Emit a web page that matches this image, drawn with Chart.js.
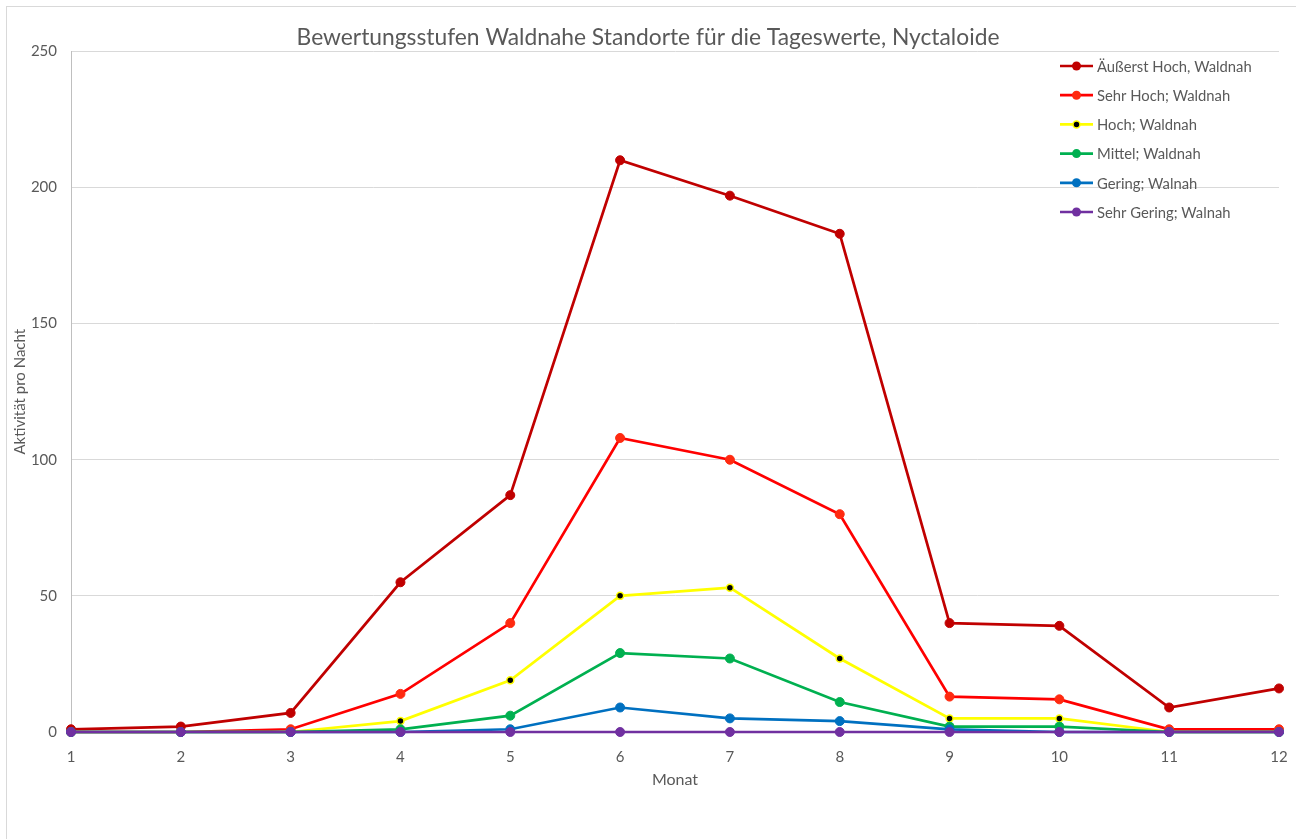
<!DOCTYPE html>
<html>
<head>
<meta charset="utf-8">
<script src="https://cdn.jsdelivr.net/npm/chart.js@4"></script>
<style>
  html, body { margin: 0; padding: 0; background: #fff; overflow: hidden; }
  #wrap { position: relative; width: 1296px; height: 839px; }
  #frame { position: absolute; left: 6px; top: 6px; width: 1400px; height: 900px; border: 1px solid #d9d9d9; box-sizing: border-box; pointer-events: none; }
</style>
</head>
<body>
<div id="wrap">
  <canvas id="chart" width="1296" height="839"></canvas>
  <div id="frame"></div>
</div>
<script>
const months = ['1','2','3','4','5','6','7','8','9','10','11','12'];
const seriesNames = ['Äußerst Hoch, Waldnah', 'Sehr Hoch; Waldnah', 'Hoch; Waldnah', 'Mittel; Waldnah', 'Gering; Walnah', 'Sehr Gering; Walnah'];
const aeusserstHoch = [1, 2, 7, 55, 87, 210, 197, 183, 40, 39, 9, 16];
const sehrHoch      = [0, 0, 1, 14, 40, 108, 100, 80, 13, 12, 1, 1];
const hoch          = [0, 0, 0, 4, 19, 50, 53, 27, 5, 5, 0, 0];
const mittel        = [0, 0, 0, 1, 6, 29, 27, 11, 2, 2, 0, 0];
const gering        = [0, 0, 0, 0, 1, 9, 5, 4, 1, 0, 0, 0];
const sehrGering    = [0, 0, 0, 0, 0, 0, 0, 0, 0, 0, 0, 0];
const yTicks = [0, 50, 100, 150, 200, 250];

const FONT = 'Lato, "Open Sans", sans-serif';
const GREY = '#595959';

const lineColors  = ['#C00000', '#FF0000', '#FFFF00', '#00B050', '#0070C0', '#7030A0'];
const pointFills  = ['#C00000', '#FF2A10', '#000000', '#00B050', '#0070C0', '#7030A0'];
const seriesData  = [aeusserstHoch, sehrHoch, hoch, mittel, gering, sehrGering];

const datasets = seriesData.map((vals, i) => ({
  label: seriesNames[i],
  data: vals,
  borderColor: lineColors[i],
  backgroundColor: pointFills[i],
  pointBackgroundColor: pointFills[i],
  pointBorderColor: i === 2 ? '#FFFF00' : pointFills[i],
  pointBorderWidth: i === 2 ? 1.5 : 1,
  pointRadius: i === 2 ? 3.5 : 4.5,
  borderWidth: 2.7,
  tension: 0,
  fill: false,
  clip: false,
  order: seriesData.length - i
}));

// legend drawn inside the plot area, top right like the Excel original
const insideLegend = {
  id: 'insideLegend',
  afterDraw(chart) {
    const ctx = chart.ctx;
    ctx.save();
    ctx.font = '14.8px ' + FONT;
    ctx.textBaseline = 'middle';
    datasets.forEach((ds, i) => {
      const y = 66 + i * 29.2;
      ctx.strokeStyle = ds.borderColor;
      ctx.lineWidth = 2.7;
      ctx.beginPath();
      ctx.moveTo(1060, y);
      ctx.lineTo(1093, y);
      ctx.stroke();
      ctx.beginPath();
      ctx.arc(1076.5, y, ds.pointRadius, 0, Math.PI * 2);
      ctx.fillStyle = ds.pointBackgroundColor;
      ctx.fill();
      if (i === 2) {
        ctx.lineWidth = 1.5;
        ctx.strokeStyle = ds.pointBorderColor;
        ctx.stroke();
      }
      ctx.fillStyle = GREY;
      ctx.fillText(ds.label, 1097, y + 1);
    });
    ctx.restore();
  }
};

new Chart(document.getElementById('chart'), {
  type: 'line',
  data: { labels: months, datasets: datasets },
  options: {
    responsive: false,
    animation: false,
    layout: { padding: { left: 0, right: 0, top: 0, bottom: 46 } },
    plugins: {
      legend: { display: false },
      tooltip: { enabled: false },
      title: {
        display: true,
        text: 'Bewertungsstufen Waldnahe Standorte für die Tageswerte, Nyctaloide',
        color: GREY,
        font: { family: FONT, size: 22.8, weight: 'normal' },
        padding: { top: 24, bottom: 0 }
      }
    },
    scales: {
      x: {
        offset: false,
        afterFit(scale) { scale.height = 61; scale.paddingLeft = 0; scale.paddingRight = 17; },
        grid: { display: false, drawTicks: false },
        border: { display: false },
        ticks: { color: GREY, font: { family: FONT, size: 15 }, padding: 16, maxRotation: 0 },
        title: { display: true, text: 'Monat', color: GREY, font: { family: FONT, size: 16 }, padding: { top: 3, bottom: 4 } }
      },
      y: {
        min: 0,
        max: 250,
        afterBuildTicks(scale) { scale.ticks = yTicks.map(v => ({ value: v })); },
        afterFit(scale) { scale.width = 71; },
        grid: { color: '#d9d9d9', lineWidth: 1, drawTicks: false },
        border: { display: true, color: '#bfbfbf', width: 1 },
        ticks: { color: GREY, font: { family: FONT, size: 15 }, padding: 14 },
        title: { display: true, text: 'Aktivität pro Nacht', color: GREY, font: { family: FONT, size: 15 }, padding: { top: 11, bottom: 11 } }
      }
    }
  },
  plugins: [insideLegend]
});
</script>
</body>
</html>
